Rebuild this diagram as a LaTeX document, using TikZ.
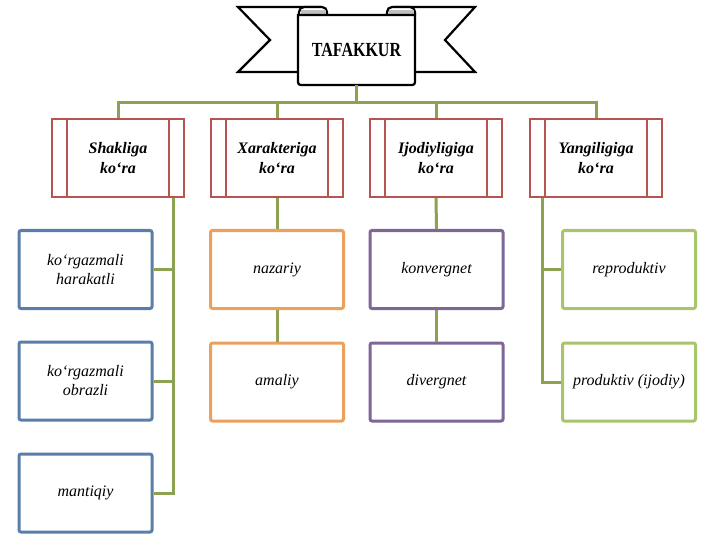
\documentclass[tikz,border=0pt]{standalone}
\usepackage{fontspec}
\usepackage{graphicx}
\setmainfont{LiberationSerif}[Extension=.ttf, UprightFont=*-Regular, BoldFont=*-Bold, ItalicFont=*-Italic, BoldItalicFont=*-BoldItalic]
\usetikzlibrary{calc}
\definecolor{cred}{HTML}{B85450}
\definecolor{cconn}{HTML}{8CA252}
\definecolor{cblue}{HTML}{5A7EAA}
\definecolor{corange}{HTML}{EBA05E}
\definecolor{cpurple}{HTML}{7E6696}
\definecolor{cgreen}{HTML}{A8C46C}
\definecolor{croll}{HTML}{C0C0C0}
\tikzset{
  catbox/.style={draw=cred, line width=2.2pt, fill=white, minimum width=132pt, minimum height=78pt, inner sep=0pt, align=center, font=\rmfamily\fontsize{16}{20}\selectfont\bfseries\itshape},
  leaf/.style={draw=#1, line width=3pt, rounded corners=2pt, fill=white, minimum width=133pt, minimum height=78pt, inner sep=0pt, align=center, font=\rmfamily\fontsize{16}{19}\selectfont\itshape},
  conn/.style={draw=cconn, line width=3pt},
  strip/.style={draw=cred, line width=2.2pt},
  banner/.style={draw=black, line width=2.2pt, fill=white, line join=miter}
}
\begin{document}
\begin{tikzpicture}[x=1pt,y=-1pt]
\useasboundingbox (0,0) rectangle (720,540);
% banner flags
\draw[banner] (238,7) -- (320,7) -- (320,72) -- (238,72) -- (270,40) -- cycle;
\draw[banner] (475,7) -- (395,7) -- (395,72) -- (475,72) -- (445,40) -- cycle;
% rolls
\draw[banner, rounded corners=5pt] (299,7) rectangle (327,20);
\fill[croll] (300.5,10.5) rectangle (325.5,15);
\draw[banner, rounded corners=5pt] (387,7) rectangle (415,20);
\fill[croll] (388.5,10.5) rectangle (413.5,15);
% body
\draw[banner] (298,15) -- (415,15) -- (415,79) .. controls (415,85) .. (409,85) -- (304,85) .. controls (298,85) .. (298,79) -- cycle;
\node[minimum width=117pt, minimum height=70pt, inner sep=0pt, font=\rmfamily\fontsize{20}{20}\selectfont\bfseries] (root) at (356.5,50) {\scalebox{0.8}[1]{TAFAKKUR}};
% category boxes
\node[catbox] (c1) at (118,158) {Shakliga\\ko`ra};
\node[catbox] (c2) at (277,158) {Xarakteriga\\ko`ra};
\node[catbox] (c3) at (436,158) {Ijodiyligiga\\ko`ra};
\node[catbox] (c4) at (596,158) {Yangiligiga\\ko`ra};
\foreach \c in {c1,c2,c3,c4}{
  \draw[strip] ($(\c.north west)+(16,0)$) -- ($(\c.south west)+(16,0)$);
  \draw[strip] ($(\c.north east)+(-16,0)$) -- ($(\c.south east)+(-16,0)$);
}
% connectors from root
\foreach \c in {c1,c2,c3,c4}{
  \draw[conn] (root.south) -- ++(0,17) -| (\c.north);
}
% leaves
\node[leaf=cblue] (b1) at (85.5,269.5) {ko`rgazmali\\harakatli};
\node[leaf=cblue] (b2) at (85.5,381) {ko`rgazmali\\obrazli};
\node[leaf=cblue] (b3) at (85.5,493) {mantiqiy};
\node[leaf=corange] (o1) at (277,269.5) {nazariy};
\node[leaf=corange] (o2) at (277,382) {amaliy};
\node[leaf=cpurple] (p1) at (436.5,269.5) {konvergnet};
\node[leaf=cpurple] (p2) at (436.5,382) {divergnet};
\node[leaf=cgreen] (g1) at (629,269.5) {reproduktiv};
\node[leaf=cgreen] (g2) at (629,382) {produktiv (ijodiy)};
% column connectors
\coordinate (s1) at ($(c1.south east)+(-12,0)$);
\draw[conn] (s1) |- (b3.east);
\draw[conn] (b1.east) -- (b1.east -| s1);
\draw[conn] (b2.east) -- (b2.east -| s1);
\draw[conn] (c2.south) -- (o1.north);
\draw[conn] (o1.south) -- (o2.north);
\draw[conn] (c3.south) -- (p1.north);
\draw[conn] (p1.south) -- (p2.north);
\coordinate (s4) at ($(c4.south west)+(14,0)$);
\draw[conn] (s4) |- (g2.west);
\draw[conn] (g1.west) -- (g1.west -| s4);
\end{tikzpicture}
\end{document}
